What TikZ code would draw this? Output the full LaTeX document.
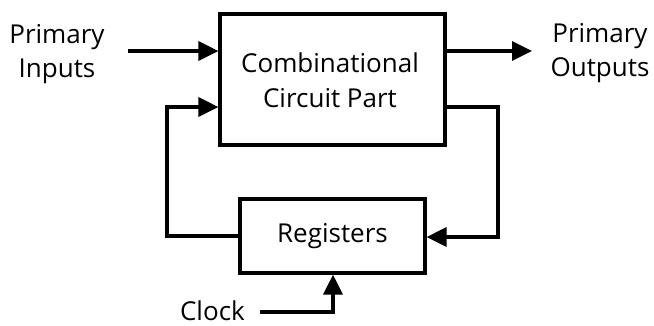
\documentclass[tikz,border=0pt]{standalone}
\usepackage{fontspec}
\setmainfont{Open Sans}
\usetikzlibrary{arrows.meta}
\begin{document}
\begin{tikzpicture}[x=1pt,y=-1pt,
  wire/.style={line width=3.2pt},
  arr/.style={wire,-{Triangle[length=20pt,width=19pt]}},
  lbl/.style={font=\fontsize{26}{34}\selectfont,align=center,inner sep=0pt}]
\useasboundingbox (0,0) rectangle (654,325);
\node[draw,line width=3.2pt,minimum width=225pt,minimum height=131pt,inner sep=0pt] (comb) at (332.5,79.5) {};
\node[lbl,font=\fontsize{26}{35}\selectfont] at (330,80) {Combinational\\Circuit Part};
\node[draw,line width=3.2pt,minimum width=185pt,minimum height=74pt,inner sep=0pt,font=\fontsize{26}{34}\selectfont] (reg) at (332.5,236) {Registers};
\node[lbl] (pin) at (57,54) {Primary\\Inputs};
\node[lbl] (pout) at (600,53) {Primary\\Outputs};
\node[lbl,anchor=base east] (clk) at (245,320) {Clock};
\coordinate (pinR) at (128,51);
\coordinate (clkR) at (260,312);
\draw[arr] (pinR) -- (pinR -| comb.west);
\draw[arr] (comb.east |- pinR) -- (532,51);
\draw[arr] (reg.west) -| (167,107) -- (comb.west |- 0,107);
\draw[arr] (comb.east |- 0,107) -| (498,237) -- (reg.east |- 0,237);
\draw[arr] (clkR) -| (reg.south -| 333,0);
\end{tikzpicture}
\end{document}
